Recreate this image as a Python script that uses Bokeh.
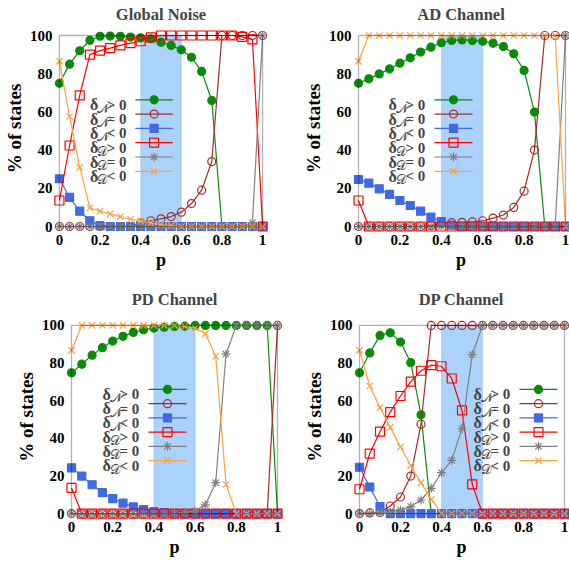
from bokeh.plotting import figure
from bokeh.layouts import column, row
from bokeh.models import Range1d, FixedTicker, BoxAnnotation, Label, ColumnDataSource
from bokeh.embed import file_html
from bokeh.resources import INLINE

# ---------------- data ----------------
p_values = [0.0, 0.05, 0.1, 0.15, 0.2, 0.25, 0.3, 0.35, 0.4, 0.45, 0.5,
            0.55, 0.6, 0.65, 0.7, 0.75, 0.8, 0.85, 0.9, 0.95, 1.0]
x_ticks = [0, 0.2, 0.4, 0.6, 0.8, 1]
x_tick_labels = ["0", "0.2", "0.4", "0.6", "0.8", "1"]
y_ticks = [0, 20, 40, 60, 80, 100]
highlight_start = 0.4
highlight_end = 0.6

titles = ["Global Noise", "AD Channel", "PD Channel", "DP Channel"]

# Global Noise
gn_n_pos = [75, 85, 92, 97.5, 99.6, 99.7, 99.6, 99.2, 98.8, 98.3, 96.5, 94.8, 92.5, 88.6, 81.2, 66, 0, 0, 0, 0, 0]
gn_n_zero = [0, 0, 0, 0, 0, 0, 0, 0, 1.8, 3, 4, 5.2, 7.5, 12, 19, 34, 100, 100, 100, 100, 100]
gn_n_neg = [25, 15.3, 8, 3, 0.5, 0, 0, 0, 0, 0, 0, 0, 0, 0, 0, 0, 0, 0, 0, 0, 0]
gn_d_pos = [13.6, 42.4, 68.6, 90, 92.1, 93.4, 94.8, 96, 97, 99, 100, 100, 100, 100, 100, 100, 100, 100, 99.3, 98, 0]
gn_d_zero = [0, 0, 0, 0, 0, 0, 0, 0, 0, 0, 0, 0, 0, 0, 0, 0, 0, 0, 0, 2, 100]
gn_d_neg = [86.5, 57.6, 31, 9.8, 8, 6.6, 5.2, 3.8, 2.8, 1.8, 1, 0.5, 0, 0, 0, 0, 0, 0, 0, 0, 0]

# AD Channel
ad_n_pos = [75, 77.3, 79.9, 82.5, 85.5, 88.3, 91.3, 93.9, 96.2, 97.4, 97.7, 97.4, 97, 96, 94.2, 90.4, 81.7, 59.9, 0, 0, 0]
ad_n_zero = [0, 0, 0, 0, 0, 0, 0, 0.5, 1.5, 2, 2.2, 2.4, 3, 4.4, 6, 10, 18.5, 40, 100, 100, 100]
ad_n_neg = [24.6, 22.7, 19.7, 16.8, 13.6, 11, 8, 4.9, 2.6, 0.7, 0, 0, 0, 0, 0, 0, 0, 0, 0, 0, 0]
ad_d_pos = [13.6, 0, 0, 0, 0, 0, 0, 0, 0, 0, 0, 0, 0, 0, 0, 0, 0, 0, 0, 0, 0]
ad_d_zero = [0, 0, 0, 0, 0, 0, 0, 0, 0, 0, 0, 0, 0, 0, 0, 0, 0, 0, 0, 0, 100]
ad_d_neg = [86.5, 100, 100, 100, 100, 100, 100, 100, 100, 100, 100, 100, 100, 100, 100, 100, 100, 100, 100, 100, 0]

# PD Channel
pd_n_pos = [74.8, 79.4, 84.2, 88.2, 91.7, 94.2, 96.3, 97.7, 98.6, 99.1, 99.5, 99.6, 100, 100, 100, 100, 100, 100, 100, 100, 0]
pd_n_zero = [0, 0, 0, 0, 0, 0, 0, 0, 0, 0, 0, 0, 0, 0, 0, 0, 0, 0, 0, 0, 100]
pd_n_neg = [24.3, 19.9, 15.3, 11.1, 7.9, 5.5, 3.5, 2.1, 1, 0.5, 0, 0, 0, 0, 0, 0, 0, 0, 0, 0, 0]
pd_d_pos = [13.6, 0, 0, 0, 0, 0, 0, 0, 0, 0, 0, 0, 0, 0, 0, 0, 0, 0, 0, 0, 0]
pd_d_zero = [0, 0, 0, 0, 0, 0, 0, 0, 0, 0, 0, 0.5, 1.4, 4.6, 16.4, 84.7, 100, 100, 100, 100, 100]
pd_d_neg = [86.8, 100, 100, 100, 100, 100, 100, 100, 100, 100, 100, 99.5, 98.6, 95.6, 83.6, 15.5, 0, 0, 0, 0, 0]

# DP Channel
dp_n_pos = [74.8, 85.4, 94.7, 96.1, 91.2, 80.3, 52.5, 0, 0, 0, 0, 0, 0, 0, 0, 0, 0, 0, 0, 0, 0]
dp_n_zero = [0, 0.3, 0.5, 4, 8.8, 19.9, 47.5, 100, 100, 100, 100, 100, 100, 100, 100, 100, 100, 100, 100, 100, 100]
dp_n_neg = [24.6, 14.1, 3.7, 0, 0, 0, 0, 0, 0, 0, 0, 0, 0, 0, 0, 0, 0, 0, 0, 0, 0]
dp_d_pos = [12.9, 31.9, 43.5, 53.9, 62.5, 70.1, 75.9, 78.9, 78.3, 71.8, 54.8, 15.5, 0, 0, 0, 0, 0, 0, 0, 0, 0]
dp_d_zero = [0, 0, 0.5, 0.8, 1.8, 3.7, 7.2, 13.4, 21.7, 28.3, 45.2, 84.5, 100, 100, 100, 100, 100, 100, 100, 100, 100]
dp_d_neg = [86.8, 67.8, 56.3, 45.8, 35.4, 25.5, 16.4, 7.6, 0, 0, 0, 0, 0, 0, 0, 0, 0, 0, 0, 0, 0]

panel_series = [
    [gn_n_pos, gn_n_zero, gn_n_neg, gn_d_pos, gn_d_zero, gn_d_neg],
    [ad_n_pos, ad_n_zero, ad_n_neg, ad_d_pos, ad_d_zero, ad_d_neg],
    [pd_n_pos, pd_n_zero, pd_n_neg, pd_d_pos, pd_d_zero, pd_d_neg],
    [dp_n_pos, dp_n_zero, dp_n_neg, dp_d_pos, dp_d_zero, dp_d_neg],
]
legend_subs = ["\U0001D4A9", "\U0001D4A9", "\U0001D4A9", "\U0001D49F", "\U0001D49F", "\U0001D49F"]
legend_rels = ["> 0", "= 0", "< 0", "> 0", "= 0", "< 0"]

# ---------------- styles / layout ----------------
FONT = "Liberation Serif"
STYLES = [
    dict(color="#0a8a0a", marker="circle", size=8, fill=True),
    dict(color="#a52a2a", marker="circle", size=8, fill=False),
    dict(color="#4169e1", marker="square", size=8, fill=True),
    dict(color="#ff0000", marker="square", size=9, fill=False),
    dict(color="#808080", marker="asterisk", size=9, fill=False),
    dict(color="#ffa040", marker="x", size=9, fill=False),
]
# w,h: figure size; bl,bt: visible box offset; bw,bh: visible box size;
# lx: legend text offset; ts: title standoff
PANELS = [
    dict(w=285, h=282, bl=56, bt=35, bw=206, bh=191, lx=31, ts=1),
    dict(w=284, h=282, bl=73, bt=35, bw=207, bh=191, lx=30, ts=1),
    dict(w=285, h=282, bl=71, bt=42, bw=206, bh=189, lx=31, ts=11),
    dict(w=284, h=282, bl=74, bt=42, bw=205, bh=189, lx=114, ts=11),
]
LEG_Y0 = 64.3
LEG_DY = 14.3
PAD = 6
PAD_TOP = 11


def make_panel(title, series, spec):
    bw, bh = spec["bw"], spec["bh"]
    slack_r = spec["w"] - spec["bl"] - bw
    pad_r = min(PAD, slack_r)
    p = figure(width=spec["w"], height=spec["h"], output_backend="svg", toolbar_location=None,
               x_range=Range1d(-PAD / bw, 1 + pad_r / bw),
               y_range=Range1d(-PAD / bh * 100, 100 + PAD_TOP / bh * 100),
               min_border_left=spec["bl"] - PAD, min_border_right=slack_r - pad_r,
               min_border_top=spec["bt"] - PAD_TOP,
               min_border_bottom=spec["h"] - spec["bt"] - bh - PAD)
    p.outline_line_color = None
    p.grid.visible = False
    p.background_fill_color = "white"
    p.border_fill_color = "white"

    p.title.text = title
    p.title.align = "center"
    p.title.text_font = FONT
    p.title.text_font_style = "bold"
    p.title.text_font_size = "16.5px"
    p.title.standoff = spec["ts"]

    for ax in (p.xaxis[0], p.yaxis[0]):
        ax.axis_line_color = None
        ax.major_tick_line_color = None
        ax.minor_tick_line_color = None
        ax.major_tick_out = 0
        ax.major_tick_in = 0
        ax.minor_tick_out = 0
        ax.minor_tick_in = 0
        ax.major_label_text_font = FONT
        ax.major_label_text_font_style = "bold"
        ax.major_label_text_font_size = "15px"
        ax.axis_label_text_font = FONT
        ax.axis_label_text_font_style = "bold"
        ax.axis_label_text_color = "black"
        ax.major_label_text_color = "black"
    p.xaxis.ticker = FixedTicker(ticks=x_ticks)
    p.xaxis.major_label_overrides = {t: l for t, l in zip(x_ticks, x_tick_labels)}
    p.yaxis.ticker = FixedTicker(ticks=y_ticks)
    p.xaxis.axis_label = "p"
    p.xaxis.axis_label_text_font_size = "18px"
    p.yaxis.axis_label = "% of states"
    p.yaxis.axis_label_text_font_size = "19px"
    p.xaxis.major_label_standoff = 2
    p.yaxis.major_label_standoff = 1
    p.xaxis.axis_label_standoff = 2
    p.yaxis.axis_label_standoff = 2

    p.add_layout(BoxAnnotation(left=highlight_start, right=highlight_end, bottom=0, top=100,
                               fill_color="#aad2fa", fill_alpha=1.0,
                               line_color="#5fa8f0", line_width=1, level="underlay"))

    for vals, st in zip(series, STYLES):
        src = ColumnDataSource(dict(x=p_values, y=vals))
        p.line("x", "y", source=src, line_color=st["color"], line_width=1.2)
        p.scatter("x", "y", source=src, marker=st["marker"], size=st["size"],
                  line_color=st["color"], line_width=1.2,
                  fill_color=st["color"] if st["fill"] else None)

    p.add_layout(BoxAnnotation(left=0, right=1, bottom=0, top=100, fill_color=None,
                               line_color="black", line_width=1.3))

    # legend (gnuplot style: text then sample)
    lx = spec["lx"]
    for i, st in enumerate(STYLES):
        yc_px = LEG_Y0 + i * LEG_DY
        yc = 100 - yc_px / bh * 100
        yb = 100 - (yc_px + 5) / bh * 100
        ys = 100 - (yc_px + 9) / bh * 100
        p.line([(lx + 46) / bw, (lx + 84) / bw], [yc, yc], line_color=st["color"], line_width=1.2)
        p.scatter([(lx + 65) / bw], [yc], marker=st["marker"], size=st["size"],
                  line_color=st["color"], line_width=1.2,
                  fill_color=st["color"] if st["fill"] else None)
        p.add_layout(Label(x=lx / bw, y=yb, text="\u03b4", text_font=FONT, text_font_style="bold",
                           text_font_size="16px", text_baseline="alphabetic"))
        p.add_layout(Label(x=(lx + 7) / bw, y=ys, text=legend_subs[i], text_font=FONT,
                           text_font_size="12.5px", text_baseline="alphabetic"))
        p.add_layout(Label(x=(lx + 17) / bw, y=yb, text=legend_rels[i], text_font=FONT,
                           text_font_style="bold", text_font_size="15px", text_baseline="alphabetic"))
    return p


figs = [make_panel(t, s, sp) for t, s, sp in zip(titles, panel_series, PANELS)]
layout = column(row(figs[0], figs[1]), row(figs[2], figs[3]))

open("out.html", "w").write(file_html(layout, INLINE))
